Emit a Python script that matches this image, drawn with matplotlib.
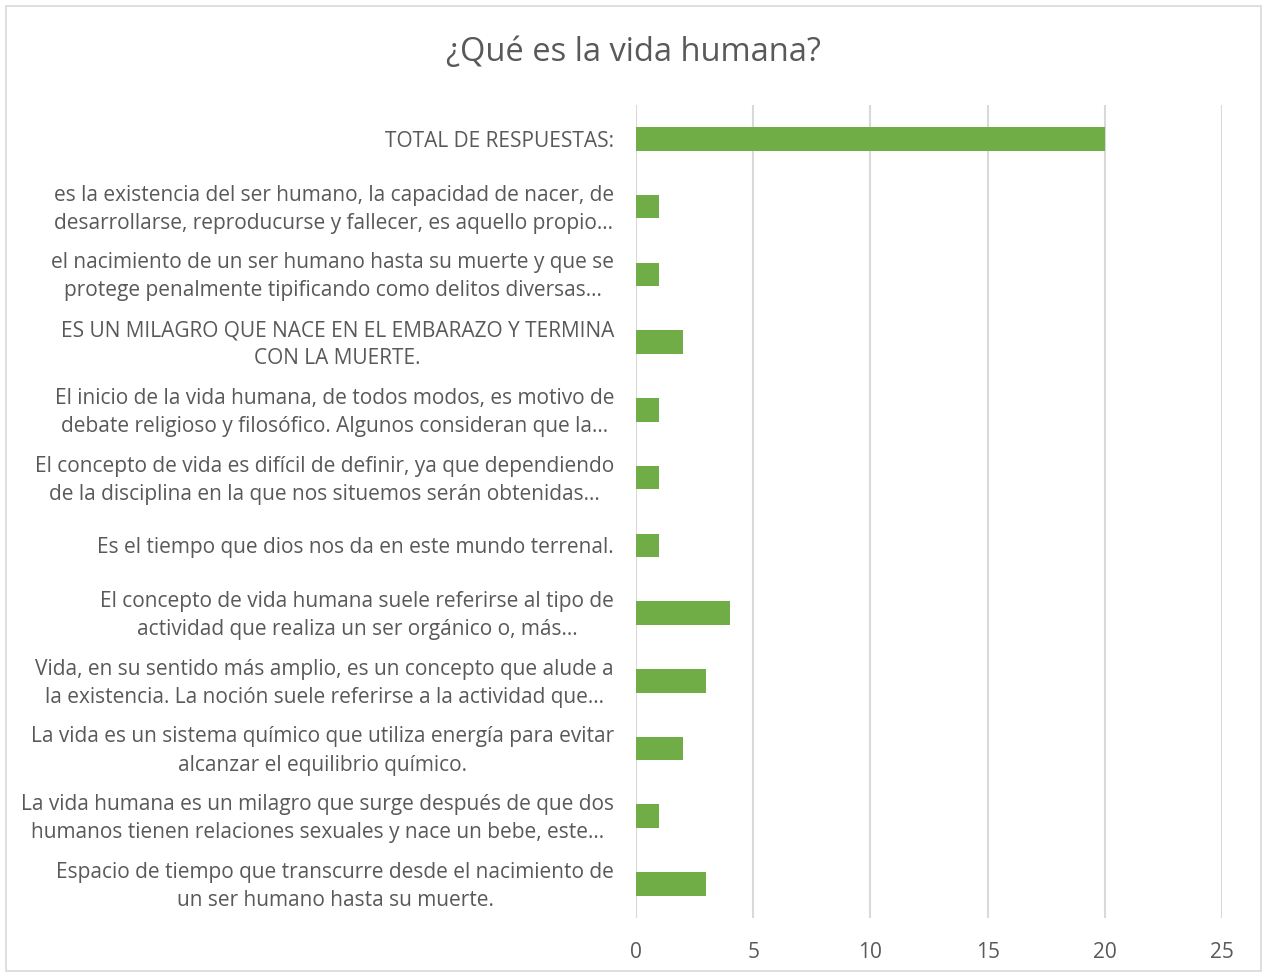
import matplotlib
matplotlib.use("Agg")
import matplotlib.pyplot as plt
from matplotlib.patches import Rectangle
from matplotlib.transforms import ScaledTranslation, blended_transform_factory

# categories (top to bottom as shown)
labels = [
    "TOTAL DE RESPUESTAS:",
    "es la existencia del ser humano, la capacidad de nacer, de\ndesarrollarse, reproducurse y fallecer, es aquello propio…",
    "el nacimiento de un ser humano hasta su muerte y que se\nprotege penalmente tipificando como delitos diversas…",
    "ES UN MILAGRO QUE NACE EN EL EMBARAZO Y TERMINA\nCON LA MUERTE.",
    "El inicio de la vida humana, de todos modos, es motivo de\ndebate religioso y filosófico. Algunos consideran que la…",
    "El concepto de vida es difícil de definir, ya que dependiendo\nde la disciplina en la que nos situemos serán obtenidas…",
    "Es el tiempo que dios nos da en este mundo terrenal.",
    "El concepto de vida humana suele referirse al tipo de\nactividad que realiza un ser orgánico o, más…",
    "Vida, en su sentido más amplio, es un concepto que alude a\nla existencia. La noción suele referirse a la actividad que…",
    "La vida es un sistema químico que utiliza energía para evitar\nalcanzar el equilibrio químico.",
    "La vida humana es un milagro que surge después de que dos\nhumanos tienen relaciones sexuales y nace un bebe, este…",
    "Espacio de tiempo que transcurre desde el nacimiento de\nun ser humano hasta su muerte.",
]
values = [20, 1, 1, 2, 1, 1, 1, 4, 3, 2, 1, 3]
xticks = [0, 5, 10, 15, 20, 25]

plt.rcParams['font.family'] = ['Open Sans', 'DejaVu Sans']
txt = '#595959'
grid = '#D9D9D9'

fig = plt.figure(figsize=(12.66, 9.75), dpi=100)
ax = fig.add_axes([0.5024, 0.0585, 0.4628, 0.8338])

pos = list(range(len(labels)))
ax.barh(pos, values, height=0.35, color='#70AD47', zorder=3)
ax.set_ylim(len(labels) - 0.5, -0.5)
ax.set_xlim(0, 25)
ax.set_xticks(xticks)
ax.set_yticks(pos)
ax.set_yticklabels([])
ax.tick_params(axis='y', length=0)
ax.tick_params(axis='x', length=0, pad=17, labelsize=15, labelcolor=txt)
ax.grid(axis='x', color=grid, linewidth=1.5, zorder=0)
for s in ax.spines.values():
    s.set_visible(False)

# category labels, right edge ~22px left of the axis, nudged down a bit
trans = blended_transform_factory(ax.transAxes, ax.transData) + \
    ScaledTranslation(-0.22, -0.025, fig.dpi_scale_trans)
for p, lab in zip(pos, labels):
    ax.text(0, p, lab, transform=trans, ha='right', va='center',
            multialignment='center', fontsize=15, color=txt, linespacing=1.45)

fig.text(0.5, 0.946, "¿Qué es la vida humana?", ha='center', va='center',
         fontsize=23.5, color=txt)
fig.patches.append(Rectangle((0.005, 0.004), 0.991, 0.99, transform=fig.transFigure,
                             fill=False, edgecolor='#D9D9D9', linewidth=1.2))

fig.savefig('out.png', dpi=100)
